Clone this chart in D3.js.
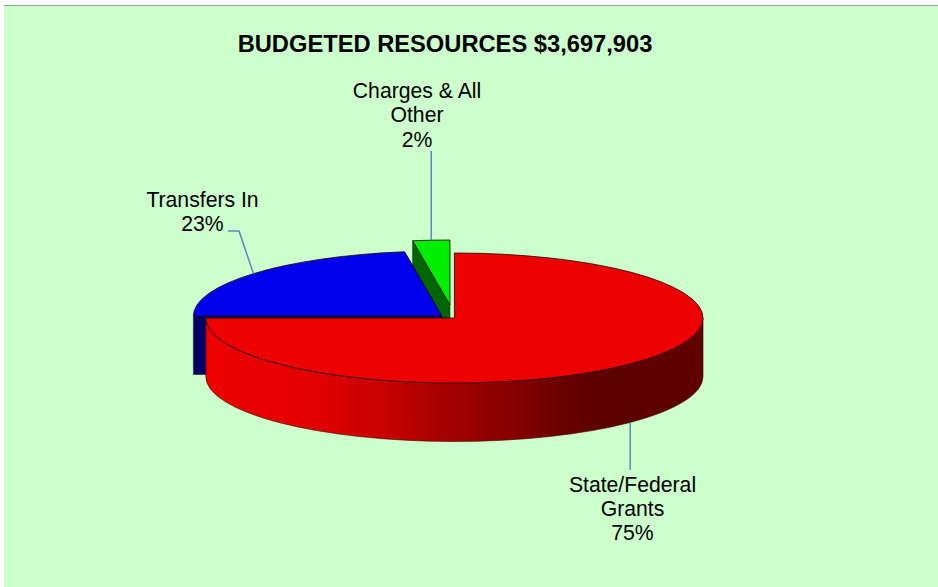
<!DOCTYPE html>
<meta charset="utf-8">
<style>
  body { margin: 0; background: #fff; }
  text { font-family: "Liberation Sans", Arial, sans-serif; fill: #000; }
</style>

<!-- Load d3.js -->
<script src="https://d3js.org/d3.v7.min.js"></script>

<div id="my_dataviz"></div>

<script>
    // chart data, percent of budgeted resources
    var title = "BUDGETED RESOURCES $3,697,903";
    var categories = ["State/Federal Grants", "Transfers In", "Charges & All Other"];
    var shares = [75, 22.6, 2.4];
    var labelLines = [["State/Federal", "Grants"], ["Transfers In"], ["Charges & All", "Other"]];

    var width = 938, height = 587;

    // the pie is a flattened ellipse with a wall below it
    var rx = 248.6, ry = 65, depth = 58.5;

    // slice settings, same order as categories
    var centers = [{x: 454.4, y: 318}, {x: 442, y: 316}, {x: 450, y: 305}];
    var topColors = ["#ee0000", "#0000ee", "#00ee00"];
    var faceColors = ["#600000", "#000066", "#006600"];
    var labelPos = [{x: 632.5, y: 491.5}, {x: 202.5, y: 206.5}, {x: 417, y: 98}];

    var svg = d3.select("#my_dataviz")
      .append("svg")
        .attr("width", width)
        .attr("height", height)
        .style("display", "block");

    // background panel, only a top rule
    svg.append("rect")
      .attr("x", 4).attr("y", 5)
      .attr("width", width - 4).attr("height", height - 5)
      .attr("fill", "#ccffcc");
    svg.append("line")
      .attr("x1", 4).attr("x2", width)
      .attr("y1", 5.5).attr("y2", 5.5)
      .attr("stroke", "#86a886");

    // shading of the red wall
    var gradient = svg.append("defs").append("linearGradient")
      .attr("id", "wall")
      .attr("gradientUnits", "userSpaceOnUse")
      .attr("x1", 205).attr("x2", 703)
      .attr("y1", 0).attr("y2", 0);
    [[0, "#ee0000"], [0.2, "#e40000"], [0.36, "#c80000"], [0.5, "#a20000"],
     [0.62, "#860000"], [0.72, "#680000"], [0.8, "#5c0000"], [1, "#600000"]]
      .forEach(function (s) {
        gradient.append("stop").attr("offset", s[0]).attr("stop-color", s[1]);
      });

    var pie = d3.pie().sort(null).value(function (d) { return d.share; });
    var slices = pie(categories.map(function (c, i) {
      return {name: c, share: shares[i], index: i};
    }));

    // point on the slice rim, angle clockwise from north like d3.arc
    function rim(d, angle) {
      var c = centers[d.data.index];
      return [c.x + rx * Math.sin(angle), c.y - ry * Math.cos(angle)];
    }

    var arc = d3.arc().innerRadius(0).outerRadius(rx);

    // flat cut face going down from the apex along one slice edge
    function cutFace(d, angle) {
      var c = centers[d.data.index], p = rim(d, angle);
      return "M" + c.x + "," + c.y + "L" + p + "L" + p[0] + "," + (p[1] + depth) +
        "L" + c.x + "," + (c.y + depth) + "Z";
    }

    // curved wall of the part of a slice that faces the viewer
    function wall(d) {
      var a0 = Math.max(d.startAngle, Math.PI / 2), a1 = Math.min(d.endAngle, Math.PI * 1.5);
      if (a1 <= a0) return "";
      var p0 = rim(d, a0), p1 = rim(d, a1);
      return "M" + p0 + "A" + rx + "," + ry + " 0 0 1 " + p1 +
        "L" + p1[0] + "," + (p1[1] + depth) +
        "A" + rx + "," + ry + " 0 0 0 " + p0[0] + "," + (p0[1] + depth) + "Z";
    }

    function drawSlice(d) {
      var i = d.data.index, c = centers[i];
      var g = svg.append("g").attr("class", "slice");
      if (i !== 0) {
        // only the back slices show the start edge
        g.append("path")
          .attr("d", cutFace(d, d.startAngle))
          .attr("fill", faceColors[i])
          .attr("stroke", "#111").attr("stroke-width", 0.5);
      }
      if (i === 0) {
        g.append("path")
          .attr("d", wall(d))
          .attr("fill", "url(#wall)")
          .attr("stroke", "#400000").attr("stroke-width", 0.6);
      }
      g.append("path")
        .attr("d", arc(d))
        .attr("transform", "translate(" + c.x + "," + c.y + ") scale(1," + (ry / rx) + ")")
        .attr("fill", topColors[i])
        .attr("stroke", "#200000")
        .attr("stroke-width", 0.8)
        .attr("vector-effect", "non-scaling-stroke");
    }

    // back to front: green, blue, red
    drawSlice(slices[2]);
    drawSlice(slices[1]);
    drawSlice(slices[0]);

    // leader lines start where the middle of the slice meets its rim
    var leaderColor = "#5b84c4";
    function leader(points) {
      svg.append("path")
        .attr("d", d3.line()(points))
        .attr("fill", "none")
        .attr("stroke", leaderColor)
        .attr("stroke-width", 1.5);
    }
    var mid = slices.map(function (d) { return rim(d, (d.startAngle + d.endAngle) / 2); });
    leader([[mid[0][0], mid[0][1] + depth], [mid[0][0], 470]]);
    leader([mid[1], [239, 231], [228, 231]]);
    leader([mid[2], [mid[2][0], 151]]);

    // labels
    svg.append("text")
      .attr("x", 445).attr("y", 52)
      .attr("text-anchor", "middle")
      .attr("font-size", 23.7)
      .attr("font-weight", "bold")
      .text(title);

    slices.forEach(function (d) {
      var i = d.data.index;
      var lines = labelLines[i].concat([d3.format(".0f")(d.data.share) + "%"]);
      lines.forEach(function (line, k) {
        svg.append("text")
          .attr("x", labelPos[i].x)
          .attr("y", labelPos[i].y + k * 24.4)
          .attr("text-anchor", "middle")
          .attr("font-size", 21.2)
          .text(line);
      });
    });
</script>
